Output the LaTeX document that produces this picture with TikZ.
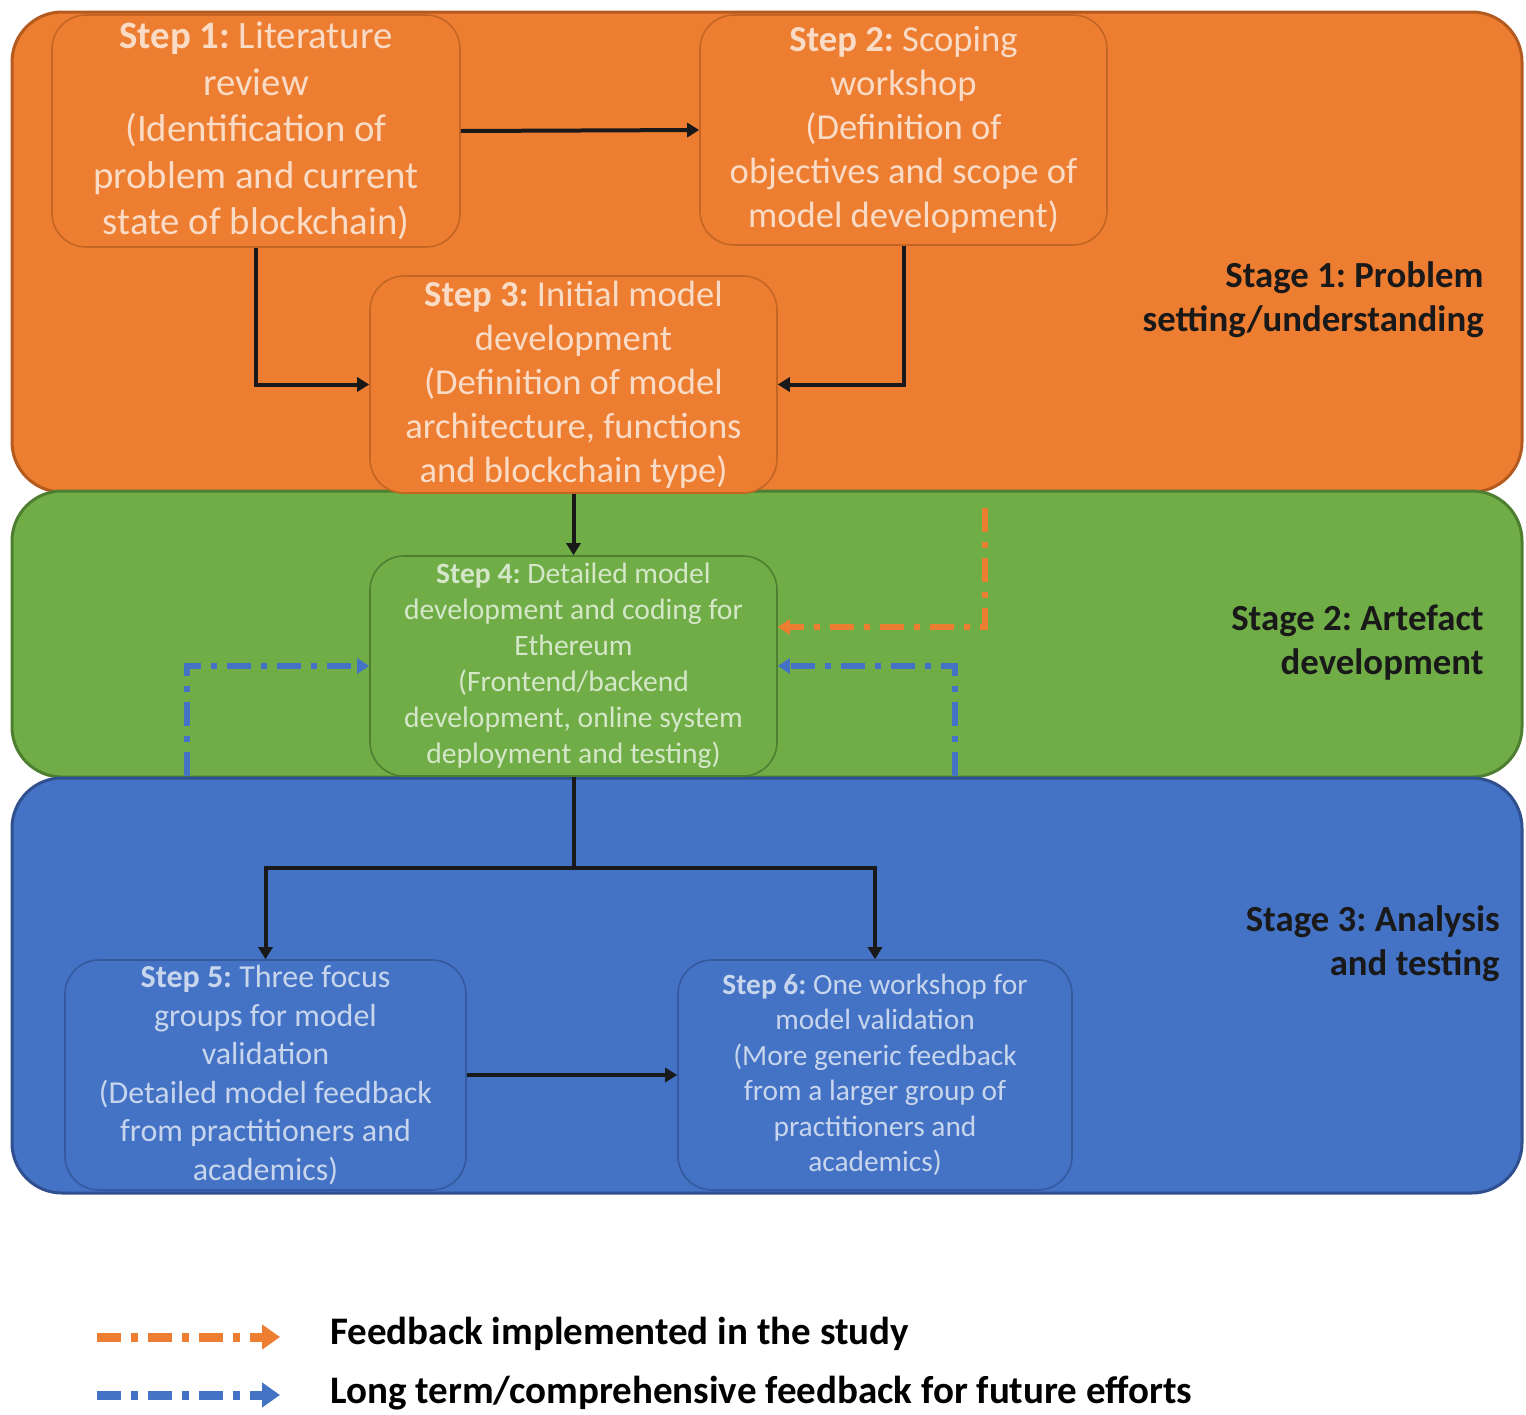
\documentclass[tikz,border=0pt]{standalone}
\usepackage{fontspec}
\setmainfont{Carlito}
\usetikzlibrary{arrows.meta}

\definecolor{ofill}{HTML}{ED7D31}
\definecolor{oline}{HTML}{B35A1F}
\definecolor{gfill}{HTML}{70AD47}
\definecolor{gline}{HTML}{4E7F30}
\definecolor{bfill}{HTML}{4472C4}
\definecolor{bline}{HTML}{2F4F8F}
\definecolor{fbblue}{HTML}{4472C4}
\definecolor{fborange}{HTML}{ED7D31}

\tikzset{
  stagebox/.style={line width=1.5pt, rounded corners=25pt},
  stepbox/.style={rounded corners=17pt, line width=0.8pt, inner sep=0pt, align=center},
  ostep/.style={stepbox, fill=ofill, draw=oline!70!ofill, text=white!72!ofill},
  gstep/.style={stepbox, fill=gfill, draw=gline, text=white!70!gfill},
  bstep/.style={stepbox, fill=bfill, draw=bline!70!bfill, text=white!70!bfill},
  stagelabel/.style={anchor=east, align=right, text=black!90, inner sep=0pt,
    font=\fontsize{18.4}{22}\selectfont\bfseries},
  arr/.style={line width=2pt, draw=black!90, -{Triangle[width=7pt,length=6pt]}},
  conn/.style={line width=2pt, draw=black!90},
  fb/.style={line width=3pt, dash pattern=on 12pt off 5pt on 3pt off 5pt,
    -{Triangle[width=7.5pt,length=6pt]}},
  legarr/.style={line width=4.5pt, dash pattern=on 12pt off 5pt on 3.5pt off 5pt,
    -{Triangle[width=12pt,length=9pt]}},
  legtext/.style={anchor=west, inner sep=0pt, text=black,
    font=\fontsize{19.5}{23}\selectfont\bfseries}
}

\begin{document}
\frenchspacing
\begin{tikzpicture}[x=0.5pt, y=-0.5pt]
\useasboundingbox (0,0) rectangle (1526,1414);

% stage backgrounds
\draw[stagebox, fill=ofill, draw=oline] (12,12) rectangle (1522,492);
\draw[stagebox, fill=gfill, draw=gline] (12,491) rectangle (1522,777);
\draw[stagebox, fill=bfill, draw=bline] (12,778) rectangle (1522,1193);

% stage labels
\node[stagelabel] (lab1) at (1484,300) {Stage 1: Problem\\setting/understanding};
\node[stagelabel] (lab2) at (1484,643) {Stage 2: Artefact\\development};
\node[stagelabel] (lab3) at (1500,944) {Stage 3: Analysis\\and testing};

% steps
\node[ostep, minimum width=204pt, minimum height=116pt,
  font=\fontsize{19.4}{23.2}\selectfont] (s1) at (256,131)
  {\textbf{Step 1:} Literature\\review\\(Identification of\\problem and current\\state of blockchain)};
\node[ostep, minimum width=203.5pt, minimum height=115pt,
  font=\fontsize{18.3}{22}\selectfont] (s2) at (903.5,130)
  {\textbf{Step 2:} Scoping\\workshop\\(Definition of\\objectives and scope of\\model development)};
\node[ostep, minimum width=203.5pt, minimum height=108.5pt,
  font=\fontsize{18.3}{22}\selectfont] (s3) at (573.5,384.5)
  {\textbf{Step 3:} Initial model\\development\\(Definition of model\\architecture, functions\\and blockchain type)};
\node[gstep, minimum width=203.5pt, minimum height=110pt,
  font=\fontsize{14.8}{18}\selectfont] (s4) at (573.5,666)
  {\textbf{Step 4:} Detailed model\\development and coding for\\Ethereum\\(Frontend/backend\\development, online system\\deployment and testing)};
\node[bstep, minimum width=200.5pt, minimum height=115pt,
  font=\fontsize{16}{19.25}\selectfont] (s5) at (265.5,1075)
  {\textbf{Step 5:} Three focus\\groups for model\\validation\\(Detailed model feedback\\from practitioners and\\academics)};
\node[bstep, minimum width=197pt, minimum height=115pt,
  font=\fontsize{14.7}{17.75}\selectfont] (s6) at (875,1075)
  {\textbf{Step 6:} One workshop for\\model validation\\(More generic feedback\\from a larger group of\\practitioners and\\academics)};

% main flow
\draw[arr] (s1.east) -- (s2.west);
\draw[arr] (s1.south) |- (s3.west);
\draw[arr] (s2.south) |- (s3.east);
\draw[arr] (s3.south) -- (s4.north);
\coordinate (split) at (573.5,868);
\draw[conn] (s4.south) -- (split);
\draw[arr] (split) -| (s5.north);
\draw[arr] (split) -| (s6.north);
\draw[arr] (s5.east) -- (s6.west);

% feedback loops
\coordinate (otop) at (985,508);
\coordinate (oturn) at (985,627);
\draw[fb, draw=fborange] (otop) -- (oturn) -- (s4.east |- oturn);
\coordinate (bl0) at (187,776);
\coordinate (bl1) at (187,666);
\draw[fb, draw=fbblue] (bl0) -- (bl1) -- (s4.west);
\coordinate (br0) at (955,776);
\coordinate (br1) at (955,666);
\draw[fb, draw=fbblue] (br0) -- (br1) -- (s4.east);

% legend
\coordinate (lo0) at (97,1337);
\coordinate (lo1) at (280,1337);
\coordinate (lb0) at (97,1395);
\coordinate (lb1) at (280,1395);
\draw[legarr, draw=fborange] (lo0) -- (lo1);
\draw[legarr, draw=fbblue] (lb0) -- (lb1);
\node[legtext] (leg1) at (330,1334) {Feedback implemented in the study};
\node[legtext] (leg2) at (330,1393) {Long term/comprehensive feedback for future efforts};
\end{tikzpicture}
\end{document}
